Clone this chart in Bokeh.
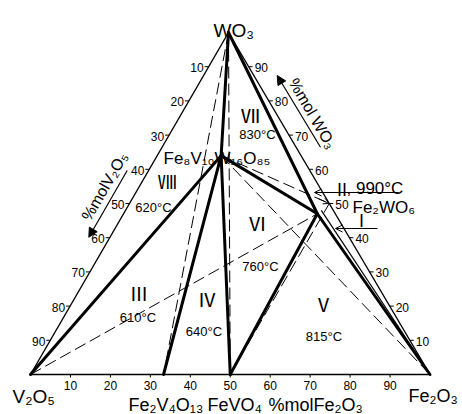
from bokeh.plotting import figure
from bokeh.models import Range1d, Arrow, NormalHead, OpenHead, ColumnDataSource
from bokeh.core.properties import value
from bokeh.embed import file_html
from bokeh.resources import INLINE

# ---------------- data (mol %) ----------------
compounds = ["V2O5", "Fe2O3", "WO3", "Fe2V4O13", "FeVO4", "Fe2WO6",
             "Fe8V10W16O85", "Fe2WO6ss", "Fe2WO6ss2"]
pct_V2O5 = [100, 0, 0, 66.7, 50, 0, 20, 4.5, 3]
pct_Fe2O3 = [0, 100, 0, 33.3, 50, 50, 16, 48.5, 49]
pct_WO3 = [0, 0, 100, 0, 0, 50, 64, 47, 48]

edges = [("V2O5", "Fe2O3"), ("Fe2O3", "WO3"), ("WO3", "V2O5")]
thick_ties = [("WO3", "Fe8V10W16O85"), ("V2O5", "Fe8V10W16O85"),
              ("Fe8V10W16O85", "Fe2V4O13"), ("Fe8V10W16O85", "FeVO4"),
              ("Fe8V10W16O85", "Fe2WO6ss"), ("FeVO4", "Fe2WO6ss"),
              ("WO3", "Fe2WO6ss"), ("Fe2WO6ss", "Fe2O3")]
thin_ties = [("Fe2WO6ss2", "Fe2O3")]
dashed_ties = [("WO3", "Fe2V4O13"), ("WO3", "FeVO4"), ("V2O5", "Fe2WO6ss"),
               ("Fe8V10W16O85", "Fe2WO6"), ("Fe8V10W16O85", "Fe2O3"),
               ("FeVO4", "Fe2WO6")]

tick_values = [10, 20, 30, 40, 50, 60, 70, 80, 90]
tick_labels = [str(t) for t in tick_values]

region_names = ["Ⅶ", "Ⅷ", "Ⅵ", "Ⅲ", "Ⅳ", "Ⅴ"]
region_temps = ["830°C", "620°C", "760°C", "610°C", "640°C", "815°C"]

# ---------------- layout ----------------
W_PX, H_PX = 462, 414
VX, VY = 30.0, 40.0
FX, FY = 429.5, 40.0
WX, WY = 228.0, 382.0


def tern(v, f, w):
    s = v + f + w
    return ((v * VX + f * FX + w * WX) / s, (v * VY + f * FY + w * WY) / s)


pos = {n: tern(a, b, c) for n, a, b, c in zip(compounds, pct_V2O5, pct_Fe2O3, pct_WO3)}


def iy(y):
    return H_PX - y


p = figure(width=W_PX, height=H_PX, x_range=Range1d(0, W_PX), y_range=Range1d(0, H_PX),
           output_backend="svg", toolbar_location=None, min_border=0)
p.axis.visible = False
p.grid.visible = False
p.outline_line_color = None
p.background_fill_color = "white"


def ties(pairs, **kw):
    xs = [[pos[a][0], pos[b][0]] for a, b in pairs]
    ys = [[pos[a][1], pos[b][1]] for a, b in pairs]
    p.multi_line(xs, ys, line_color="black", **kw)


ties(edges, line_width=1.4)
ties(dashed_ties, line_width=1.0, line_dash="12 5")
ties(thin_ties, line_width=1.2)
ties(thick_ties, line_width=3.0, line_cap="round", line_join="round")

SANS = value("Liberation Sans")
ROMAN = value("Noto Sans CJK JP")


def txt(xs, ys, texts, size, font=SANS, align="left", baseline="alphabetic", angle=0.0):
    src = ColumnDataSource(dict(x=xs, y=ys, t=texts))
    p.text(x="x", y="y", text="t", source=src, text_font=font,
           text_font_size=f"{size}px", text_align=align, text_baseline=baseline,
           angle=angle, angle_units="deg", text_color="black")


# ---- ticks ----
bx, by, lx, ly, rx, ry = [], [], [], [], [], []
for t in tick_values:
    x, y = tern(100 - t, t, 0)
    bx.append(x); by.append(y)
    x, y = tern(t, 0, 100 - t)
    lx.append(x); ly.append(y)
    x, y = tern(0, 100 - t, t)
    rx.append(x); ry.append(y)

p.segment(bx, by, bx, [y - 3 for y in by], line_color="black", line_width=1)
p.segment([x - 4 for x in lx], ly, lx, ly, line_color="black", line_width=1)
p.segment(rx, ry, [x + 4 for x in rx], ry, line_color="black", line_width=1)

txt(bx, [y - 11 for y in by], tick_labels, 12, align="center", baseline="middle")
txt([x - 5 for x in lx], [y - 1 for y in ly], tick_labels, 12, align="right", baseline="middle")
txt([x + 6 for x in rx], [y - 1 for y in ry], tick_labels, 12, align="left", baseline="middle")

# ---- formula labels ----
txt([213], [iy(30)], ["WO₃"], 19)
txt([12], [iy(396)], ["V₂O₅"], 19)
txt([408], [iy(395)], ["Fe₂O₃"], 18)
txt([128, 207, 268], [iy(404)] * 3, ["Fe₂V₄O₁₃", "FeVO₄", "%molFe₂O₃"], 18)
txt([163], [iy(158)], ["Fe₈V₁₀W₁₆O₈₅"], 17)
txt([352], [iy(207)], ["Fe₂WO₆"], 17)
txt([346], [iy(188)], [", 990°C"], 17)
txt([333], [iy(188)], ["Ⅱ"], 17, font=ROMAN)
txt([361], [iy(219)], ["Ⅰ"], 17, font=ROMAN, align="center", baseline="middle")

# ---- regions ----
rn_x = [250, 167, 257, 138.5, 206.5, 323]
rn_y = [114, 180, 222, 292, 298, 303]
rt_x = [257, 153, 260, 137.5, 203.5, 323.5]
rt_y = [134, 207, 266, 317, 331, 336]
txt(rn_x, [iy(y) for y in rn_y], region_names, 19, font=ROMAN, align="center", baseline="middle")
txt(rt_x, [iy(y) for y in rt_y], region_temps, 13, align="center", baseline="middle")

# ---- axis titles ----
txt([104], [iy(186)], ["%molV₂O₅"], 16, align="center", baseline="middle", angle=60)
txt([312], [iy(113)], ["%mol WO₃"], 16, align="center", baseline="middle", angle=-60)

# ---- arrows ----
p.add_layout(Arrow(end=NormalHead(size=9, fill_color="black", line_color="black"),
                   x_start=126.7, y_start=iy(170), x_end=88.3, y_end=iy(236.7),
                   line_width=1.2))
p.add_layout(Arrow(end=NormalHead(size=9, fill_color="black", line_color="black"),
                   x_start=320, y_start=iy(146.7), x_end=276.7, y_end=iy(75),
                   line_width=1.2))
p.add_layout(Arrow(end=OpenHead(size=7, line_width=1), x_start=398, y_start=iy(192),
                   x_end=314, y_end=iy(192), line_width=1))
p.add_layout(Arrow(end=OpenHead(size=7, line_width=1), x_start=377, y_start=iy(228),
                   x_end=335, y_end=iy(228), line_width=1))
fx, fy = pos["Fe8V10W16O85"]
ex, ey = pos["Fe2WO6"]
p.add_layout(Arrow(end=OpenHead(size=6, line_width=1), x_start=fx + 0.9 * (ex - fx),
                   y_start=fy + 0.9 * (ey - fy), x_end=ex, y_end=ey, line_width=1))

open("out.html", "w").write(file_html(p, INLINE))
